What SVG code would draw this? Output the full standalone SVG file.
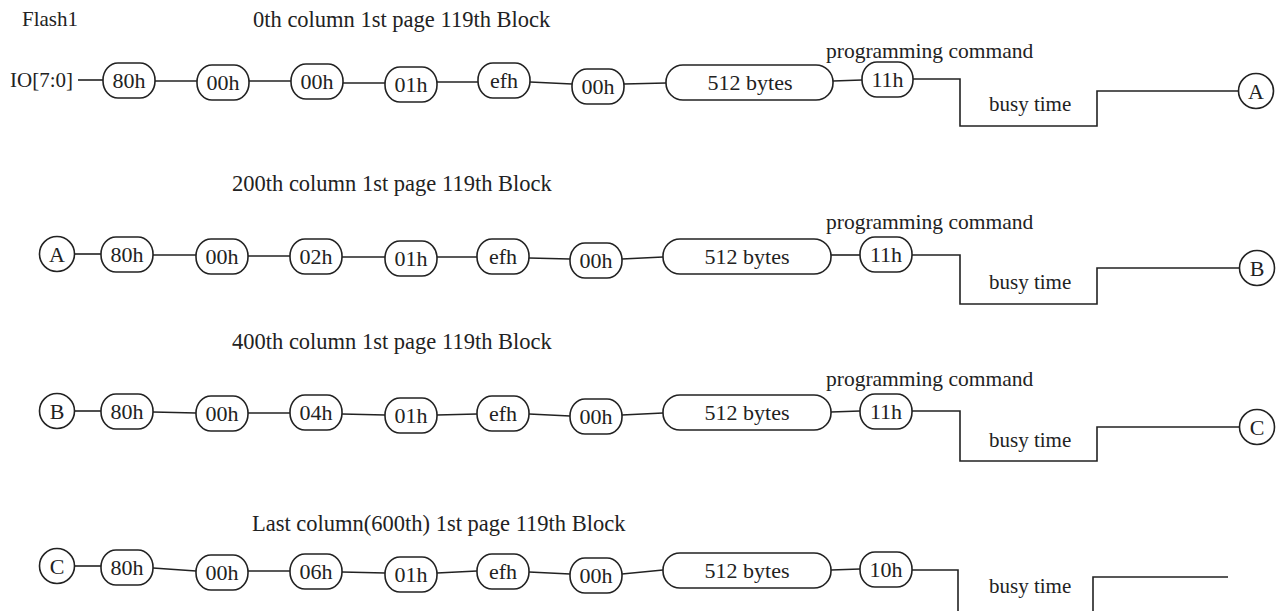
<svg xmlns="http://www.w3.org/2000/svg" width="1288" height="611" viewBox="0 0 1288 611">
<defs>
<style>
text{font-family:"Liberation Serif","Times New Roman",serif;font-size:21px;fill:#222}
.t{font-size:22.5px}
.p{font-size:21.5px}
.n rect,.n circle{fill:#fff;stroke:#222;stroke-width:1.6}
.n text{text-anchor:middle;dominant-baseline:central;font-size:22px}
#connectors path,#connectors line{fill:none;stroke:#222;stroke-width:1.6}
</style>
</defs>
<rect width="1288" height="611" fill="#fff"/>
<g id="labels">
<text x="22" y="26">Flash1</text>
<text x="10" y="87">IO[7:0]</text>
<text class="t" x="253" y="27">0th column 1st page 119th Block</text>
<text class="p" x="826" y="58">programming command</text>
<text x="989" y="111">busy time</text>
<text class="t" x="232" y="191">200th column 1st page 119th Block</text>
<text class="p" x="826" y="229">programming command</text>
<text x="989" y="289">busy time</text>
<text class="t" x="232" y="349">400th column 1st page 119th Block</text>
<text class="p" x="826" y="386">programming command</text>
<text x="989" y="447">busy time</text>
<text class="t" x="252" y="531">Last column(600th) 1st page 119th Block</text>
<text x="989" y="593">busy time</text>
</g>
<g id="connectors">
<line x1="78" y1="80" x2="103" y2="80"/>
<line x1="155" y1="81" x2="197" y2="81"/>
<line x1="249" y1="81" x2="291" y2="81"/>
<line x1="343" y1="83" x2="385" y2="83"/>
<line x1="437" y1="82" x2="478" y2="82"/>
<line x1="530" y1="82" x2="572" y2="84"/>
<line x1="624" y1="84" x2="666" y2="83"/>
<line x1="833" y1="81" x2="862" y2="80"/>
<path d="M913 79 H960 V126 H1097 V91 H1239"/>
<line x1="74" y1="254" x2="101" y2="254"/>
<line x1="153" y1="255" x2="196" y2="255"/>
<line x1="248" y1="256" x2="290" y2="256"/>
<line x1="342" y1="257" x2="385" y2="257"/>
<line x1="437" y1="257" x2="477" y2="257"/>
<line x1="529" y1="258" x2="570" y2="259"/>
<line x1="622" y1="259" x2="663" y2="257"/>
<line x1="831" y1="255" x2="860" y2="255"/>
<path d="M912 255 H960 V304 H1097 V268 H1240"/>
<line x1="74" y1="411" x2="101" y2="411"/>
<line x1="153" y1="412" x2="196" y2="413"/>
<line x1="248" y1="413" x2="290" y2="413"/>
<line x1="342" y1="414" x2="385" y2="415"/>
<line x1="437" y1="415" x2="477" y2="414"/>
<line x1="529" y1="414" x2="570" y2="416"/>
<line x1="622" y1="415" x2="663" y2="413"/>
<line x1="831" y1="412" x2="860" y2="411"/>
<path d="M912 411 H960 V461 H1097 V427 H1240"/>
<line x1="74" y1="566" x2="101" y2="566"/>
<line x1="153" y1="568" x2="196" y2="571"/>
<line x1="248" y1="571" x2="290" y2="571"/>
<line x1="342" y1="572" x2="385" y2="573"/>
<line x1="437" y1="573" x2="477" y2="571"/>
<line x1="529" y1="572" x2="570" y2="574"/>
<line x1="622" y1="574" x2="663" y2="570"/>
<line x1="831" y1="570" x2="860" y2="569"/>
<path d="M912 570 H958 V611"/>
<path d="M1093 611 V577 H1228"/>
</g>
<g id="r1-80h" class="n"><rect x="103" y="63" width="52" height="35" rx="15" ry="17"/><text x="129" y="80.5">80h</text></g>
<g id="r1-00h-a" class="n"><rect x="197" y="65" width="52" height="35" rx="15" ry="17"/><text x="223" y="82.5">00h</text></g>
<g id="r1-00h-b" class="n"><rect x="291" y="64" width="52" height="35" rx="15" ry="17"/><text x="317" y="81.5">00h</text></g>
<g id="r1-01h" class="n"><rect x="385" y="67" width="52" height="35" rx="15" ry="17"/><text x="411" y="84.5">01h</text></g>
<g id="r1-efh" class="n"><rect x="478" y="63" width="52" height="35" rx="15" ry="17"/><text x="504" y="80.5">efh</text></g>
<g id="r1-00h-c" class="n"><rect x="572" y="69" width="52" height="35" rx="15" ry="17"/><text x="598" y="86.5">00h</text></g>
<g id="r1-512" class="n"><rect x="666" y="65" width="167" height="35" rx="17" ry="17"/><text x="750" y="82.5">512 bytes</text></g>
<g id="r1-11h" class="n"><rect x="862" y="62" width="51" height="35" rx="15" ry="17"/><text x="887.5" y="79.5">11h</text></g>
<g id="r1-A" class="n"><circle cx="1256" cy="91" r="17.5"/><text x="1256" y="91">A</text></g>

<g id="r2-A" class="n"><circle cx="57" cy="254" r="17.5"/><text x="57" y="254">A</text></g>
<g id="r2-80h" class="n"><rect x="101" y="237" width="52" height="35" rx="15" ry="17"/><text x="127" y="254.5">80h</text></g>
<g id="r2-00h-a" class="n"><rect x="196" y="239" width="52" height="35" rx="15" ry="17"/><text x="222" y="256.5">00h</text></g>
<g id="r2-02h" class="n"><rect x="290" y="239" width="52" height="35" rx="15" ry="17"/><text x="316" y="256.5">02h</text></g>
<g id="r2-01h" class="n"><rect x="385" y="241" width="52" height="35" rx="15" ry="17"/><text x="411" y="258.5">01h</text></g>
<g id="r2-efh" class="n"><rect x="477" y="239" width="52" height="35" rx="15" ry="17"/><text x="503" y="256.5">efh</text></g>
<g id="r2-00h-b" class="n"><rect x="570" y="243" width="52" height="35" rx="15" ry="17"/><text x="596" y="260.5">00h</text></g>
<g id="r2-512" class="n"><rect x="663" y="239" width="168" height="35" rx="17" ry="17"/><text x="747" y="256.5">512 bytes</text></g>
<g id="r2-11h" class="n"><rect x="860" y="237" width="52" height="35" rx="15" ry="17"/><text x="886" y="254.5">11h</text></g>
<g id="r2-B" class="n"><circle cx="1257" cy="268" r="17.5"/><text x="1257" y="268">B</text></g>

<g id="r3-B" class="n"><circle cx="57" cy="411" r="17.5"/><text x="57" y="411">B</text></g>
<g id="r3-80h" class="n"><rect x="101" y="394" width="52" height="35" rx="15" ry="17"/><text x="127" y="411.5">80h</text></g>
<g id="r3-00h-a" class="n"><rect x="196" y="396" width="52" height="35" rx="15" ry="17"/><text x="222" y="413.5">00h</text></g>
<g id="r3-04h" class="n"><rect x="290" y="395" width="52" height="35" rx="15" ry="17"/><text x="316" y="412.5">04h</text></g>
<g id="r3-01h" class="n"><rect x="385" y="398" width="52" height="35" rx="15" ry="17"/><text x="411" y="415.5">01h</text></g>
<g id="r3-efh" class="n"><rect x="477" y="396" width="52" height="35" rx="15" ry="17"/><text x="503" y="413.5">efh</text></g>
<g id="r3-00h-b" class="n"><rect x="570" y="399" width="52" height="35" rx="15" ry="17"/><text x="596" y="416.5">00h</text></g>
<g id="r3-512" class="n"><rect x="663" y="395" width="168" height="35" rx="17" ry="17"/><text x="747" y="412.5">512 bytes</text></g>
<g id="r3-11h" class="n"><rect x="860" y="394" width="52" height="35" rx="15" ry="17"/><text x="886" y="411.5">11h</text></g>
<g id="r3-C" class="n"><circle cx="1257" cy="427" r="17.5"/><text x="1257" y="427">C</text></g>

<g id="r4-C" class="n"><circle cx="57" cy="566" r="17.5"/><text x="57" y="566">C</text></g>
<g id="r4-80h" class="n"><rect x="101" y="550" width="52" height="35" rx="15" ry="17"/><text x="127" y="567.5">80h</text></g>
<g id="r4-00h-a" class="n"><rect x="196" y="555" width="52" height="35" rx="15" ry="17"/><text x="222" y="572.5">00h</text></g>
<g id="r4-06h" class="n"><rect x="290" y="554" width="52" height="35" rx="15" ry="17"/><text x="316" y="571.5">06h</text></g>
<g id="r4-01h" class="n"><rect x="385" y="557" width="52" height="35" rx="15" ry="17"/><text x="411" y="574.5">01h</text></g>
<g id="r4-efh" class="n"><rect x="477" y="554" width="52" height="35" rx="15" ry="17"/><text x="503" y="571.5">efh</text></g>
<g id="r4-00h-b" class="n"><rect x="570" y="558" width="52" height="35" rx="15" ry="17"/><text x="596" y="575.5">00h</text></g>
<g id="r4-512" class="n"><rect x="663" y="553" width="168" height="35" rx="17" ry="17"/><text x="747" y="570.5">512 bytes</text></g>
<g id="r4-10h" class="n"><rect x="860" y="552" width="52" height="35" rx="15" ry="17"/><text x="886" y="569.5">10h</text></g>
</svg>
